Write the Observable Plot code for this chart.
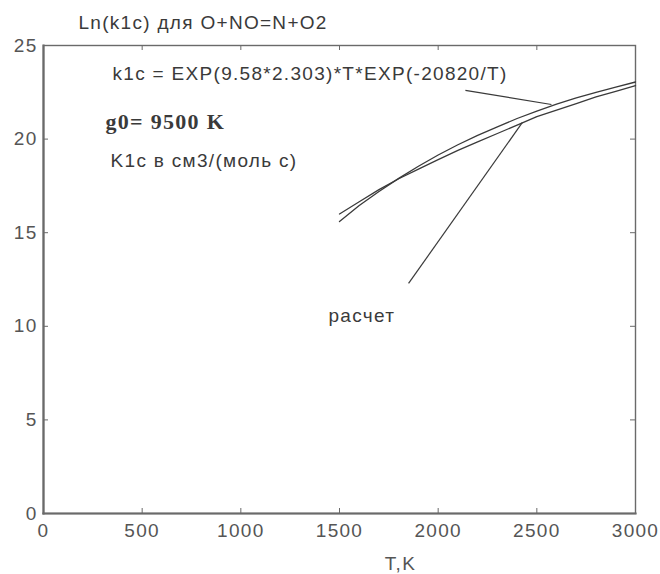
<!DOCTYPE html>
<html>
<head>
<meta charset="utf-8">
<script src="https://cdn.jsdelivr.net/npm/d3@7"></script>
<script src="https://cdn.jsdelivr.net/npm/@observablehq/plot@0.6"></script>
<style>
  html, body { margin: 0; padding: 0; background: white; }
  #chart svg text { letter-spacing: 1.3px; }
</style>
</head>
<body>
<div id="chart"></div>
<script>
// Temperature, K
const temps = [1500, 1600, 1700, 1800, 1900, 2000, 2100, 2200, 2300, 2400, 2500, 2600, 2700, 2800, 2900, 3000];
// ln(k1c) from the Arrhenius expression
const lnFormula = [15.6, 16.45, 17.2, 17.9, 18.55, 19.15, 19.7, 20.2, 20.65, 21.1, 21.5, 21.87, 22.2, 22.5, 22.78, 23.05];
// ln(k1c) "расчет"
const lnCalc = [16.0, 16.65, 17.3, 17.88, 18.4, 18.9, 19.4, 19.85, 20.3, 20.75, 21.2, 21.55, 21.9, 22.25, 22.55, 22.85];

const xTicks = [0, 500, 1000, 1500, 2000, 2500, 3000];
const yTicks = [0, 5, 10, 15, 20, 25];

const titleText = "Ln(k1c) для O+NO=N+O2";
const formulaText = "k1c = EXP(9.58*2.303)*T*EXP(-20820/T)";
const g0Text = "g0= 9500 K";
const unitsText = "K1c в см3/(моль с)";
const calcText = "расчет";
const xLabel = "T,K";

const rowsFormula = temps.map((t, i) => ({T: t, v: lnFormula[i]}));
const rowsCalc = temps.map((t, i) => ({T: t, v: lnCalc[i]}));

const ink = "#3a3a3a";
const axisInk = "#6a6a6a";
const sans = "'Liberation Sans', Arial, sans-serif";

const chart = Plot.plot({
  width: 660,
  height: 574,
  marginLeft: 43,
  marginRight: 25,
  marginTop: 45,
  marginBottom: 61,
  x: {domain: [0, 3000]},
  y: {domain: [0, 25]},
  style: {fontFamily: sans, fontSize: "19px", color: ink, background: "white"},
  marks: [
    Plot.frame({stroke: axisInk, strokeWidth: 1.4}),
    Plot.frame({anchor: "left", stroke: axisInk, strokeWidth: 2.2}),
    Plot.frame({anchor: "bottom", stroke: axisInk, strokeWidth: 2.2}),
    // inward ticks on all four sides
    Plot.tickX(xTicks, {x: d => d, insetTop: 463, stroke: axisInk}),
    Plot.tickX(xTicks, {x: d => d, insetBottom: 463, stroke: axisInk}),
    Plot.tickY(yTicks, {y: d => d, insetRight: 587, stroke: axisInk}),
    Plot.tickY(yTicks, {y: d => d, insetLeft: 587, stroke: axisInk}),
    Plot.axisX({ticks: xTicks, tickFormat: d => String(d), tickSize: 0, tickPadding: 10, label: null, fontSize: 19, fill: "#555"}),
    Plot.axisY({ticks: yTicks, tickFormat: d => String(d), tickSize: 0, tickPadding: 6, label: null, fontSize: 19, fill: "#555"}),
    // data lines
    Plot.line(rowsFormula, {x: "T", y: "v", stroke: ink, strokeWidth: 1.3}),
    Plot.line(rowsCalc, {x: "T", y: "v", stroke: ink, strokeWidth: 1.3}),
    // pointers
    Plot.link([formulaText], {x1: 2138, y1: 22.6, x2: 2574, y2: 21.85, stroke: ink, strokeWidth: 1.2}),
    Plot.link([calcText], {x1: 1850, y1: 12.29, x2: 2427, y2: 20.89, stroke: ink, strokeWidth: 1.2}),
    // annotations
    Plot.text([formulaText], {x: 350, y: 23.5, text: d => d, textAnchor: "start", fontSize: 19, fill: ink}),
    Plot.text([g0Text], {x: 314, y: 20.89, text: d => d, textAnchor: "start", fontSize: 22, fontWeight: "bold", fontFamily: "'Liberation Serif', 'Times New Roman', serif", fill: ink}),
    Plot.text([unitsText], {x: 340, y: 18.86, text: d => d, textAnchor: "start", fontSize: 19, fill: ink}),
    Plot.text([calcText], {x: 1444, y: 10.58, text: d => d, textAnchor: "start", fontSize: 19, fill: ink}),
    Plot.text([titleText], {x: 177, frameAnchor: "top", dy: -23, lineAnchor: "middle", text: d => d, textAnchor: "start", fontSize: 19, fill: ink}),
    Plot.text([xLabel], {x: 1809, frameAnchor: "bottom", dy: 50, lineAnchor: "middle", text: d => d, fontSize: 19, fill: "#555"})
  ]
});
document.getElementById("chart").appendChild(chart);
</script>
</body>
</html>
